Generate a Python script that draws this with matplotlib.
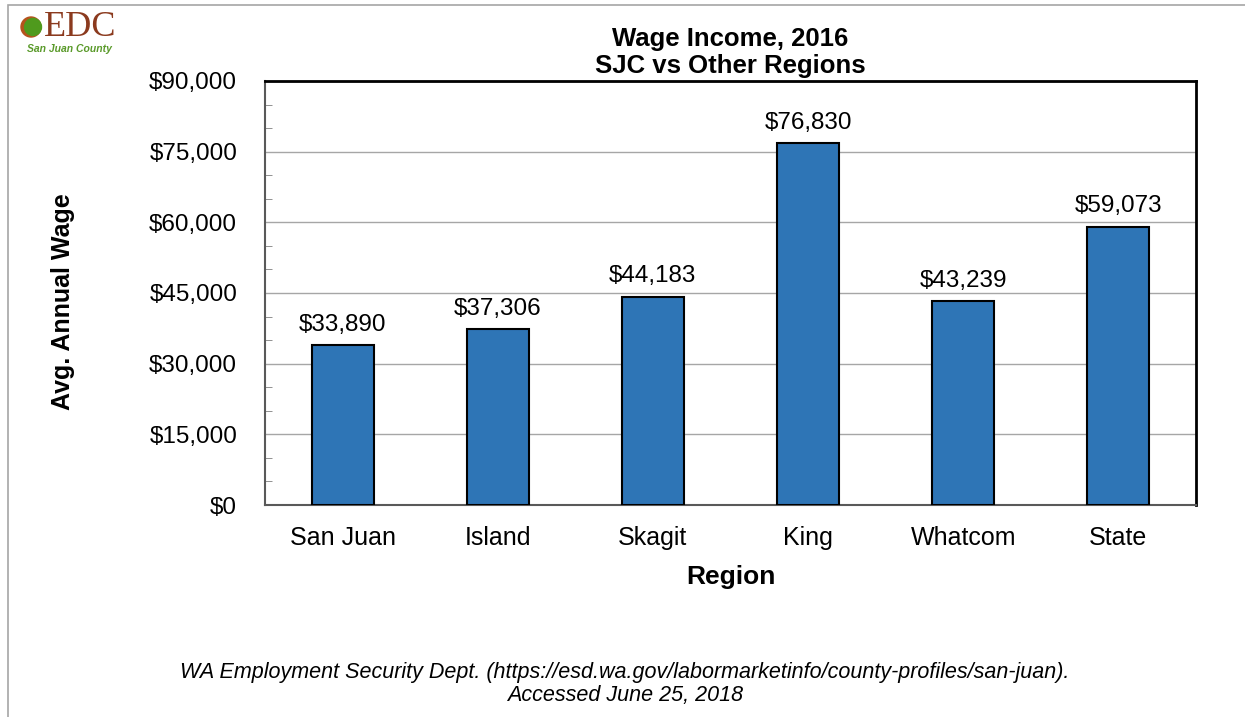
import matplotlib.pyplot as plt
from matplotlib.patches import Rectangle, Circle
from matplotlib.ticker import MultipleLocator, FuncFormatter

# datos
regiones = ["San Juan", "Island", "Skagit", "King", "Whatcom", "State"]
salarios = [33890, 37306, 44183, 76830, 43239, 59073]
titulo = "Wage Income, 2016\nSJC vs Other Regions"
fuente = ("WA Employment Security Dept. (https://esd.wa.gov/labormarketinfo/county-profiles/san-juan).\n"
          "Accessed June 25, 2018")

plt.rcParams['font.family'] = ['Liberation Sans', 'DejaVu Sans']

fig = plt.figure(figsize=(12.45, 7.17), dpi=100)
ax = fig.add_axes([265/1245, 1-505/717, 931/1245, 424/717])

# marco gris de la figura
fig.patches.append(Rectangle((8/1245, -0.05), 1.2, 1.05 - 5/717, transform=fig.transFigure,
                             fill=False, edgecolor="#a6a6a6", lw=1.2))

ax.bar(range(len(regiones)), salarios, width=0.4, color="#2e75b6", edgecolor="black",
       linewidth=1.5, zorder=3)
for i, v in enumerate(salarios):
    ax.text(i, v + 2000, "${:,}".format(v), ha="center", va="bottom", fontsize=17.5)

ax.set_xlim(-0.5, 5.5)
ax.set_ylim(0, 90000)
ax.yaxis.set_major_locator(MultipleLocator(15000))
ax.yaxis.set_minor_locator(MultipleLocator(5000))
ax.yaxis.set_major_formatter(FuncFormatter(lambda v, p: "${:,.0f}".format(v)))
ax.grid(axis="y", which="major", color="#a6a6a6", lw=1, zorder=0)
ax.tick_params(axis="y", which="major", length=0, labelsize=17.5, pad=20)
ax.tick_params(axis="y", which="minor", direction="in", length=5, color="#808080")
ax.tick_params(axis="x", length=0, labelsize=18, pad=15)
ax.set_xticks(range(len(regiones)))
ax.set_xticklabels(regiones)

for lado in ["top", "right"]:
    ax.spines[lado].set_color("black")
    ax.spines[lado].set_linewidth(2)
for lado in ["left", "bottom"]:
    ax.spines[lado].set_color("#595959")
    ax.spines[lado].set_linewidth(1.5)

ax.set_ylabel("Avg. Annual Wage", fontsize=18, fontweight="bold", va="center")
ax.yaxis.set_label_coords(-0.217, 0.479)
ax.set_xlabel("Region", fontsize=19, fontweight="bold", labelpad=11)
ax.set_title(titulo, fontsize=18.5, fontweight="bold", linespacing=1.15, pad=6)

fig.text(625/1245, 1-684/717, fuente, ha="center", va="center", fontsize=15.5,
         style="italic", linespacing=1.1)

# logo EDC
logo = fig.add_axes([18/1245, 1-56/717, 110/1245, 42/717])
logo.set_xlim(0, 110)
logo.set_ylim(0, 42)
logo.axis("off")
logo.add_patch(Circle((13, 29), 10, color="#b5531c"))
logo.add_patch(Circle((15, 29), 8.5, color="#4f9a1d"))
logo.text(26, 29, "EDC", fontsize=26, family="Liberation Serif", color="#8b3a1e",
          va="center", ha="left")
logo.text(9, 7, "San Juan County", fontsize=7.5, style="italic", fontweight="bold",
          color="#5a9a2a", va="center", ha="left")

fig.savefig("out.png", dpi=100)
